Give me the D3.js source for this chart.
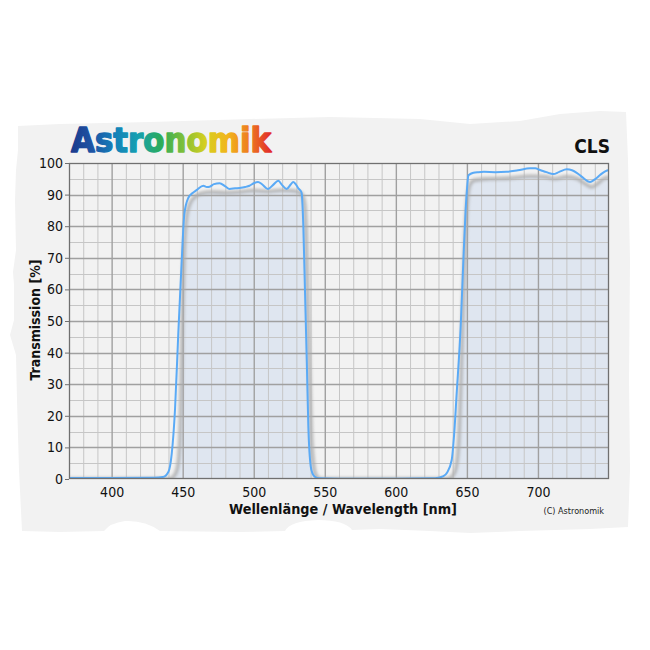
<!DOCTYPE html>
<html><head><meta charset="utf-8">
<script src="https://cdn.jsdelivr.net/npm/d3@7/dist/d3.min.js"></script>
<style>
html,body{margin:0;padding:0;background:#fff;}
svg{display:block;}
</style></head>
<body>
<svg id="c" width="650" height="650"></svg>
<script>
// ---- data ----
const measuredWl = [370,400,430,436,440,442.3,444.6,446.9,449.3,451.2,454,457,460,464.5,467,469,472,476,480,483,487,490,494,497,500,503,506,510,513.5,517.3,520,523.2,526,527.8,529.5,531.4,533,533.7,534.9,536.1,537.3,538.4,540.1,541.5,543,546,560,600,625,630,633,636,639.3,641,642.8,645.6,647.5,649.1,650.3,651,652,654.6,658,662,670,678,686,694.4,698,701.5,706,710.8,715,720.3,724,727.3,731,736.7,740,743.7,747,750];
const measuredT  = [0.3,0.3,0.4,0.6,2.3,8,22,46,69,84,89,90.5,91.5,92.8,92.4,92.5,93.3,93.6,92.6,91.8,92,92.1,92.4,92.8,93.6,94,93.2,91.8,93,94.4,93,91.8,93.2,94,93.3,92,91.2,90.5,80,59,38,17,4,1.6,0.7,0.2,0.1,0.1,0.2,0.4,0.8,2,6,14,27,48,69,85,93,96,96.4,96.9,97.1,97.2,97.1,97.2,97.7,98.3,98.3,97.8,97.1,96.5,97.2,98,97.7,96.9,95.6,94,94.8,96.2,97.3,97.8];

const typicalWl = [370,440,444,446.5,448,449,450,451,452.5,455,458,462,470,480,490,500,510,520,528,533,535.5,536.8,538,539.2,540.4,542,544,547,636,640,642.5,644.5,646,647.5,649,650.5,652,655,665,680,695,705,712,720,727,733,738,742,746,750];
const typicalT  = [0,0,1,4,12,30,55,72,82,87,89,90.3,90.8,90.6,90.8,91.3,91,91.4,91.2,90.5,88,80,58,36,16,5,1,0,0,1,4,14,35,58,78,89,93,94.5,95,95.2,95.8,95.6,95,95.6,95.2,93.5,92.4,93.5,95,95.5];

const xTicks = [400,450,500,550,600,650,700];
const yTicks = [0,10,20,30,40,50,60,70,80,90,100];
const logoLetters = ["A","s","t","r","o","n","o","m","i","k"];
const logoColors = ["#1c3a8c","#1d56a6","#1382b9","#16a0b0","#2bab5a","#7dbf3a","#d6cf1f","#f2b51d","#ed7a20","#e0262c"];

const measured = measuredWl.map((w,i)=>({w, t:measuredT[i]}));
const typical = typicalWl.map((w,i)=>({w, t:typicalT[i]}));

// ---- layout ----
const svg = d3.select("#c");
const L=69, R=609, T=163, B=479;
const x = d3.scaleLinear().domain([370,750]).range([L,R]);
const y = d3.scaleLinear().domain([0,100]).range([B,T]);
const FONT = "'DejaVu Sans Condensed','DejaVu Sans',sans-serif";

const defs = svg.append("defs");
defs.append("filter").attr("id","blur").attr("x","-10%").attr("y","-10%").attr("width","120%").attr("height","120%")
  .append("feGaussianBlur").attr("stdDeviation",1.5);
defs.append("clipPath").attr("id","plotclip").append("rect").attr("x",L).attr("y",T-6).attr("width",R-L).attr("height",B-T+6);
const grad = defs.append("linearGradient").attr("id","logograd").attr("x1","0").attr("x2","1").attr("y1","0").attr("y2","0");
logoColors.forEach((c,i)=>grad.append("stop").attr("offset",(i/(logoColors.length-1))).attr("stop-color",c));

// torn paper background (decoration)
const paper = "M18,126 L60,124 L150,122 L250,119 L330,117 L420,119 L470,124 L520,121 L560,114 L600,111 L626,112 " +
  "L628,160 L630,260 L629,380 L630,470 L628,527 " +
  "L590,529 L520,531 L470,533 L430,531 L380,529 L352,530 Q345,520 318,520 Q290,521 285,531 L240,532 L160,531 " +
  "Q145,520 125,521 Q110,523 104,531 L60,532 L22,531 " +
  "L19,470 L17,400 L16,355 L10,335 L14,320 L14,285 L13,272 L16,250 L15,200 L16,170 L18,150 Z";
svg.append("path").attr("d",paper).attr("fill","#f2f2f2");

// grid
const g = svg.append("g");
g.append("rect").attr("x",L).attr("y",T).attr("width",R-L).attr("height",B-T).attr("fill","#f2f2f2");

// fill under typical curve
const area = d3.area().x(d=>x(d.w)).y0(y(0)).y1(d=>y(d.t)).curve(d3.curveMonotoneX);
g.append("path").datum(typical).attr("d",area).attr("fill","#dfe6f0");

const minorX = d3.range(380,750,10).filter(v=>v%50!==0);
const majorX = d3.range(400,750,50);
const minorY = d3.range(5,100,10);
const majorY = d3.range(10,100,10);
g.selectAll(".mx").data(minorX).join("line").attr("x1",d=>x(d)+0.5).attr("x2",d=>x(d)+0.5).attr("y1",T).attr("y2",B).attr("stroke","#c6c6c6").attr("stroke-width",1);
g.selectAll(".my").data(minorY).join("line").attr("y1",d=>Math.round(y(d))+0.5).attr("y2",d=>Math.round(y(d))+0.5).attr("x1",L).attr("x2",R).attr("stroke","#c6c6c6").attr("stroke-width",1);
g.selectAll(".Mx").data(majorX).join("line").attr("x1",d=>x(d)+0.5).attr("x2",d=>x(d)+0.5).attr("y1",T).attr("y2",B).attr("stroke","#a0a0a0").attr("stroke-width",1.4);
g.selectAll(".My").data(majorY).join("line").attr("y1",d=>Math.round(y(d))+0.5).attr("y2",d=>Math.round(y(d))+0.5).attr("x1",L).attr("x2",R).attr("stroke","#a0a0a0").attr("stroke-width",1.4);

// curves
const line = d3.line().x(d=>x(d.w)).y(d=>y(d.t)).curve(d3.curveMonotoneX);
const curves = svg.append("g").attr("clip-path","url(#plotclip)");
curves.append("path").datum(typical).attr("d",line).attr("fill","none").attr("stroke","#adadad").attr("stroke-width",3.6).attr("stroke-opacity",0.85).attr("filter","url(#blur)");
curves.append("path").datum(measured).attr("d",line).attr("fill","none").attr("stroke","#5aaaf6").attr("stroke-width",2);

// frame
svg.append("rect").attr("x",L+0.5).attr("y",T+0.5).attr("width",R-L-1).attr("height",B-T-1).attr("fill","none").attr("stroke","#707070").attr("stroke-width",1.3);

// axes
const xAxis = svg.append("g").attr("transform",`translate(0,${B})`).call(d3.axisBottom(x).tickValues(xTicks).tickSize(0).tickPadding(8));
xAxis.select(".domain").remove();
xAxis.selectAll("text").attr("font-family",FONT).attr("font-size",14).attr("fill","#111");
const yAxis = svg.append("g").attr("transform",`translate(${L},0)`).call(d3.axisLeft(y).tickValues(yTicks).tickSize(4).tickPadding(2));
yAxis.select(".domain").remove();
yAxis.selectAll("line").attr("stroke","#707070");
yAxis.selectAll("text").attr("font-family",FONT).attr("font-size",14).attr("fill","#111");

// titles
svg.append("text").attr("x",343).attr("y",514).attr("text-anchor","middle").attr("font-family",FONT).attr("font-weight","bold").attr("font-size",14.3).attr("fill","#111").text("Wellenlänge / Wavelength [nm]");
svg.append("text").attr("transform","translate(40,320) rotate(-90)").attr("text-anchor","middle").attr("font-family",FONT).attr("font-weight","bold").attr("font-size",14).attr("fill","#111").text("Transmission [%]");
svg.append("text").attr("x",604).attr("y",514).attr("text-anchor","end").attr("font-family",FONT).attr("font-size",9).attr("fill","#222").text("(C) Astronomik");
svg.append("text").attr("x",610).attr("y",153).attr("text-anchor","end").attr("font-family",FONT).attr("font-weight","bold").attr("font-size",19).attr("fill","#111").text("CLS");

// logo
svg.append("text").attr("x",71).attr("y",152).attr("font-family",FONT).attr("font-weight","bold").attr("font-size",33)
  .attr("textLength",200).attr("lengthAdjust","spacingAndGlyphs")
  .attr("fill","url(#logograd)").attr("stroke","url(#logograd)").attr("stroke-width",1.3).attr("stroke-linejoin","round")
  .text(logoLetters.join(""));
</script>
</body></html>
